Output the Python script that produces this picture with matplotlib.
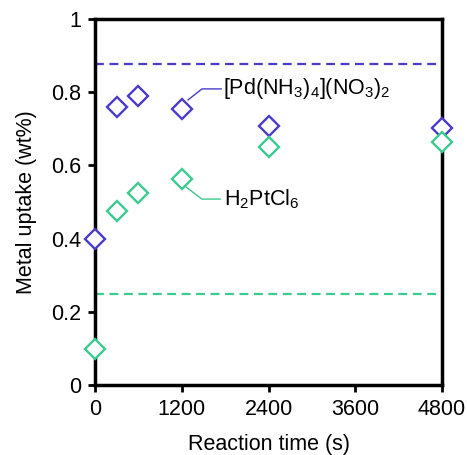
import matplotlib
matplotlib.use("Agg")
import matplotlib.pyplot as plt

plt.rcParams['font.family'] = ['Liberation Sans', 'DejaVu Sans']
plt.rcParams['mathtext.fontset'] = 'custom'
plt.rcParams['mathtext.rm'] = 'Liberation Sans'
plt.rcParams['mathtext.it'] = 'Liberation Sans:italic'

time_s = [0, 300, 600, 1200, 2400, 4800]
pd_uptake = [0.398, 0.760, 0.790, 0.754, 0.707, 0.701]
pt_uptake = [0.099, 0.476, 0.524, 0.563, 0.650, 0.664]
pd_max = 0.877
pt_max = 0.250
pd_label = r'[Pd(NH$_\mathrm{3}$)$_\mathrm{4}$](NO$_\mathrm{3}$)$_\mathrm{2}$'
pt_label = r'H$_\mathrm{2}$PtCl$_\mathrm{6}$'
xticks = [0, 1200, 2400, 3600, 4800]
yticks = [0, 0.2, 0.4, 0.6, 0.8, 1.0]
yticklabels = ['0', '0.2', '0.4', '0.6', '0.8', '1']

blue = '#4a3ccb'
green = '#3ccb8e'
fs = 15.5

fig = plt.figure(figsize=(4.67, 4.55), dpi=100)
ax = fig.add_axes([95/467, 70/455, 347/467, 366/455])

ax.axhline(pd_max, color=blue, ls=(0, (4, 2.5)), lw=1.6)
ax.axhline(pt_max, color=green, ls=(0, (4, 2.5)), lw=1.6)

ax.plot(time_s, pd_uptake, ls='none', marker='D', ms=10.5, mfc='white',
        mec=blue, mew=1.7, clip_on=False, zorder=5)
ax.plot(time_s, pt_uptake, ls='none', marker='D', ms=10.5, mfc='white',
        mec=green, mew=1.7, clip_on=False, zorder=5)

ax.plot([1287, 1480, 1745], [0.779, 0.809, 0.809], color=blue, lw=1.0)
ax.plot([1259, 1480, 1735], [0.541, 0.508, 0.508], color=green, lw=1.0)
ax.text(1770, 0.809, pd_label, fontsize=fs, va='center', ha='left')
ax.text(1784, 0.508, pt_label, fontsize=fs, va='center', ha='left')

ax.set_xlim(0, 4800)
ax.set_ylim(0, 1)
ax.set_xticks(xticks)
ax.set_xticklabels([str(t) for t in xticks])
ax.set_yticks(yticks)
ax.set_yticklabels(yticklabels)
ax.tick_params(direction='out', length=5, width=2, labelsize=fs, pad=5)
for s in ax.spines.values():
    s.set_linewidth(2.5)
ax.set_xlabel('Reaction time (s)', fontsize=fs, labelpad=10)
ax.set_ylabel('Metal uptake (wt%)', fontsize=fs, labelpad=10)

fig.savefig('out.png', dpi=100)
